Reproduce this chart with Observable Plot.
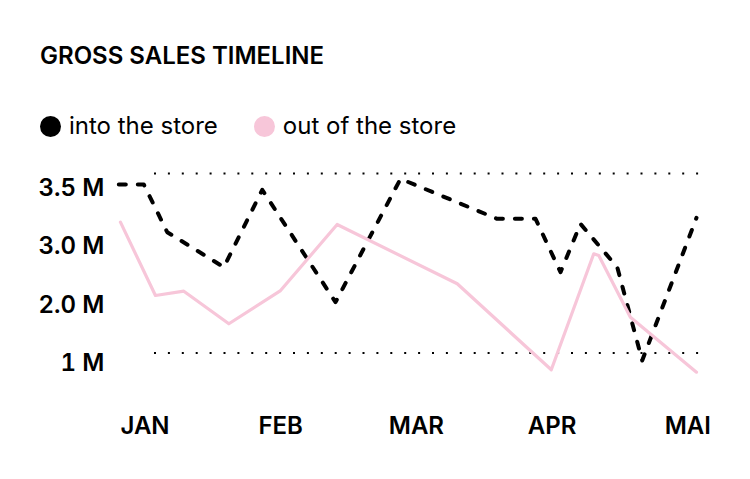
<!DOCTYPE html>
<html>
<head>
<meta charset="utf-8">
<script src="https://cdn.jsdelivr.net/npm/d3@7"></script>
<script src="https://cdn.jsdelivr.net/npm/@observablehq/plot@0.6"></script>
<style>
  html, body { margin: 0; padding: 0; background: #fff; width: 750px; height: 479px; overflow: hidden; }
  body { position: relative; font-family: Inter, "Noto Sans", sans-serif; color: #000; }
  #title { position: absolute; left: 40px; top: 44px; font-size: 24px; line-height: 24px; font-weight: 600; letter-spacing: 0; }
  #legend { position: absolute; left: 40px; top: 114px; font-size: 24px; line-height: 24px; display: flex; align-items: center; }
  .sw { display: inline-block; width: 21px; height: 21px; border-radius: 50%; margin-right: 8px; }
  .item { display: flex; align-items: center; margin-right: 36px; }
  #chart { position: absolute; left: 0; top: 150px; }
</style>
</head>
<body>
<div id="title">GROSS SALES TIMELINE</div>
<div id="legend"></div>
<div id="chart"></div>
<script>
// Series names and colours
const seriesNames = ["into the store", "out of the store"];
const seriesColors = ["#000000", "#f7c6d9"];

// x: months (0 = JAN ... 4 = MAI), fractional positions
const months = ["JAN", "FEB", "MAR", "APR", "MAI"];
const monthPos = [0, 1, 2, 3, 4];

// "into the store" (values in M)
const intoX = [-0.193, -0.009, 0.164, 0.581, 0.864, 1.404, 1.883, 2.595, 2.878, 3.062, 3.209, 3.480, 3.664, 4.064];
const intoY = [3.347, 3.347, 2.682, 2.195, 3.273, 1.708, 3.426, 2.869, 2.869, 2.125, 2.799, 2.195, 0.896, 2.883];

// "out of the store"
const outX = [-0.181, 0.077, 0.286, 0.618, 0.999, 1.416, 2.301, 2.994, 3.307, 3.344, 3.577, 4.064];
const outY = [2.822, 1.801, 1.861, 1.407, 1.870, 2.790, 1.964, 0.766, 2.382, 2.358, 1.499, 0.733];

// y tick positions and their labels, dotted reference lines
const yTickValues = [3.3, 2.485, 1.665, 0.86];
const yTickLabels = ["3.5 M", "3.0 M", "2.0 M", "1 M"];
const gridValues = [3.5, 1];

const intoData = intoX.map((x, i) => ({x, y: intoY[i]}));
const outData = outX.map((x, i) => ({x, y: outY[i]}));

// legend
const legend = document.getElementById("legend");
seriesNames.forEach((name, i) => {
  const item = document.createElement("div");
  item.className = "item";
  const sw = document.createElement("span");
  sw.className = "sw";
  sw.style.background = seriesColors[i];
  const t = document.createElement("span");
  t.textContent = name;
  item.appendChild(sw);
  item.appendChild(t);
  legend.appendChild(item);
});

const chart = Plot.plot({
  width: 750,
  height: 329,
  marginLeft: 154,
  marginRight: 40,
  marginTop: 10,
  marginBottom: 73,
  style: {fontFamily: "Inter, 'Noto Sans', sans-serif", fontSize: "24px", color: "#000", background: "transparent"},
  x: {domain: [0, 4], range: [144.5, 687.3]},
  y: {domain: [1, 3.5], range: [202.5, 23]},
  marks: [
    Plot.ruleY(gridValues, {stroke: "#000", strokeWidth: 2, strokeDasharray: "2,11.9"}),
    Plot.line(intoData, {x: "x", y: "y", stroke: seriesColors[0], strokeWidth: 4, strokeDasharray: "7,12", strokeLinecap: "round", strokeLinejoin: "round"}),
    Plot.line(outData, {x: "x", y: "y", stroke: seriesColors[1], strokeWidth: 3.2, strokeLinejoin: "round"}),
    Plot.axisY({ticks: yTickValues, tickFormat: (d, i) => yTickLabels[i], tickSize: 0, tickPadding: 50, fontWeight: 600, fontSize: 24, label: null}),
    Plot.axisX({ticks: monthPos, tickFormat: d => months[d], tickSize: 0, tickPadding: 10, fontWeight: 600, fontSize: 24, label: null})
  ]
});
document.getElementById("chart").appendChild(chart);
</script>
</body>
</html>
